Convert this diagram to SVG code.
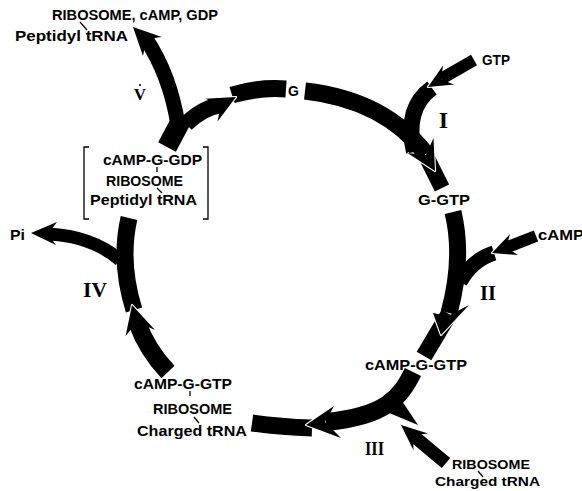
<svg xmlns="http://www.w3.org/2000/svg" width="582" height="491" viewBox="0 0 582 491">
<style>
.band{fill:none;stroke:#000;stroke-linecap:butt;stroke-linejoin:round}
.head{fill:#000}
.halo{fill:none;stroke:#fff;stroke-width:2.2;stroke-linejoin:round}
.t{font-family:"Liberation Sans",Arial,sans-serif;font-size:14px;font-weight:bold;fill:#000}
.s{font-size:13px}
.num{font-family:"Liberation Serif","Times New Roman",serif;font-weight:bold;fill:#000}
.tick{stroke:#000;stroke-width:1.3;fill:none}
</style>
<rect width="582" height="491" fill="#fff"/>
<g id="connectors">
  <!-- bands -->
  <path class="band" stroke-width="17" d="M305,91 Q385,100 426,154"/>
  <path class="band" stroke-width="12" d="M474,60 L441,79"/>
  <path class="band" stroke-width="16" d="M432,88 Q404,108 414,152"/>
  <path class="band" stroke-width="16" d="M428,160 L442,188"/>
  <path class="band" stroke-width="17" d="M453,212 Q464,258 449,313"/>
  <path class="band" stroke-width="12" d="M536,236 L506,247.6"/>
  <path class="band" stroke-width="15" d="M494,253 Q472,260 460,282"/>
  <path class="band" stroke-width="17" d="M449,314 L424,356"/>
  <path class="band" stroke-width="18" d="M413,372 C400,398 386,416 326,422"/>
  <polygon class="head" points="382,410 402,401 418,425"/>
  <path class="band" stroke-width="13" d="M446,463 L413,435.4"/>
  <path class="band" stroke-width="17" d="M252,423 Q280,427 312,428"/>
  <path class="band" stroke-width="18" d="M168,372 Q147,350 137,322"/>
  <path class="band" stroke-width="17" d="M134,310 Q119,262 129,218"/>
  <path class="band" stroke-width="13" d="M120,260 Q92,236 48,234"/>
  <path class="band" stroke-width="20" d="M167,147 L183,117"/>
  <path class="band" stroke-width="15" d="M178,125 Q170,75 146,39"/>
  <path class="band" stroke-width="16" d="M186,124 Q202,108 221,105"/>
  <path class="band" stroke-width="17" d="M232,95 Q258,87 286,89"/>
  <!-- arrowheads -->
  <polyline class="halo" points="433.5,138 435,171 407.5,153"/>
  <polygon class="head" points="435,171 433.5,138 426,155 407.5,153"/>
  <polyline class="halo" points="454,84.5 428,87 443,65.5"/>
  <polygon class="head" points="428,87 454,84.5 441,79.4 443,65.5"/>
  <polyline class="halo" points="469,305 441,335 433,313"/>
  <polygon class="head" points="441,335 469,305 448,316 433,313"/>
  <polyline class="halo" points="518,255 492,253 510,234"/>
  <polygon class="head" points="492,253 518,255 506,247.6 510,234"/>
  <polyline class="halo" points="334,406 306,425 341,438"/>
  <polygon class="head" points="306,425 334,406 325,422 341,438"/>
  <polyline class="halo" points="428,433.5 401,425 413.5,450.3"/>
  <polygon class="head" points="401,425 428,433.5 413,435.4 413.5,450.3"/>
  <polyline class="halo" points="155,330 132,305 125.6,336"/>
  <polygon class="head" points="132,305 155,330 137,322 125.6,336"/>
  <polyline class="halo" points="57,222 31,233 56,245"/>
  <polygon class="head" points="31,233 57,222 48,234 56,245"/>
  <polyline class="halo" points="217.5,121.6 236,97 205.3,98.8"/>
  <polygon class="head" points="236,97 217.5,121.6 221,105 205.3,98.8"/>
  <polyline class="halo" points="161.8,36.9 133,27 143,56"/>
  <polygon class="head" points="133,27 161.8,36.9 146.3,39.1 143,56"/>
  <!-- step numerals -->
  <text class="num" x="443.5" y="128" font-size="24" text-anchor="middle">I</text>
  <text class="num" x="480" y="300" font-size="21" textLength="16" lengthAdjust="spacingAndGlyphs">II</text>
  <text class="num" x="365" y="455" font-size="19" textLength="19" lengthAdjust="spacingAndGlyphs">III</text>
  <text class="num" x="83" y="297" font-size="21" textLength="24" lengthAdjust="spacingAndGlyphs">IV</text>
  <text class="num" x="140" y="100" font-size="17" text-anchor="middle">V</text>
  <circle cx="140" cy="85" r="1.1" fill="#000"/>
</g>
<g id="node-G">
  <text class="t" x="288" y="96">G</text>
</g>
<g id="node-GTP">
  <text class="t" x="482" y="65" textLength="28" lengthAdjust="spacingAndGlyphs">GTP</text>
</g>
<g id="node-G-GTP">
  <text class="t" x="418" y="205" textLength="52" lengthAdjust="spacingAndGlyphs">G-GTP</text>
</g>
<g id="node-cAMP">
  <text class="t" x="538" y="240" textLength="46" lengthAdjust="spacingAndGlyphs">cAMP</text>
</g>
<g id="node-cAMP-G-GTP">
  <text class="t" x="365" y="370" textLength="102" lengthAdjust="spacingAndGlyphs">cAMP-G-GTP</text>
</g>
<g id="node-ribosome-in">
  <text class="t s" x="452" y="469" textLength="78" lengthAdjust="spacingAndGlyphs">RIBOSOME</text>
  <text class="t s" x="435" y="486" textLength="105" lengthAdjust="spacingAndGlyphs">Charged tRNA</text>
  <line class="tick" x1="478" y1="471" x2="483" y2="477"/>
</g>
<g id="node-complex-charged">
  <text class="t" x="134" y="389" textLength="98" lengthAdjust="spacingAndGlyphs">cAMP-G-GTP</text>
  <text class="t" x="153" y="414" textLength="79" lengthAdjust="spacingAndGlyphs">RIBOSOME</text>
  <text class="t" x="137" y="436" textLength="110" lengthAdjust="spacingAndGlyphs">Charged tRNA</text>
  <line class="tick" x1="190" y1="391" x2="190" y2="396"/>
  <line class="tick" x1="194" y1="417" x2="199" y2="423"/>
</g>
<g id="node-Pi">
  <text class="t" x="10" y="240" textLength="15" lengthAdjust="spacingAndGlyphs">Pi</text>
</g>
<g id="node-complex-peptidyl">
  <path class="tick" d="M89,147 H84 V219 H89"/>
  <path class="tick" d="M203,147 H208 V219 H203"/>
  <text class="t" x="103" y="165" textLength="99" lengthAdjust="spacingAndGlyphs">cAMP-G-GDP</text>
  <text class="t" x="106" y="186" textLength="77" lengthAdjust="spacingAndGlyphs">RIBOSOME</text>
  <text class="t" x="90" y="205" textLength="107" lengthAdjust="spacingAndGlyphs">Peptidyl tRNA</text>
  <line class="tick" x1="157" y1="167" x2="157" y2="172"/>
  <line class="tick" x1="157" y1="188" x2="162" y2="193"/>
</g>
<g id="node-products">
  <text class="t" x="52" y="20" textLength="166" lengthAdjust="spacingAndGlyphs">RIBOSOME, cAMP, GDP</text>
  <text class="t" x="15" y="41" textLength="113" lengthAdjust="spacingAndGlyphs">Peptidyl tRNA</text>
  <line class="tick" x1="80" y1="22" x2="87" y2="30"/>
</g>
</svg>
